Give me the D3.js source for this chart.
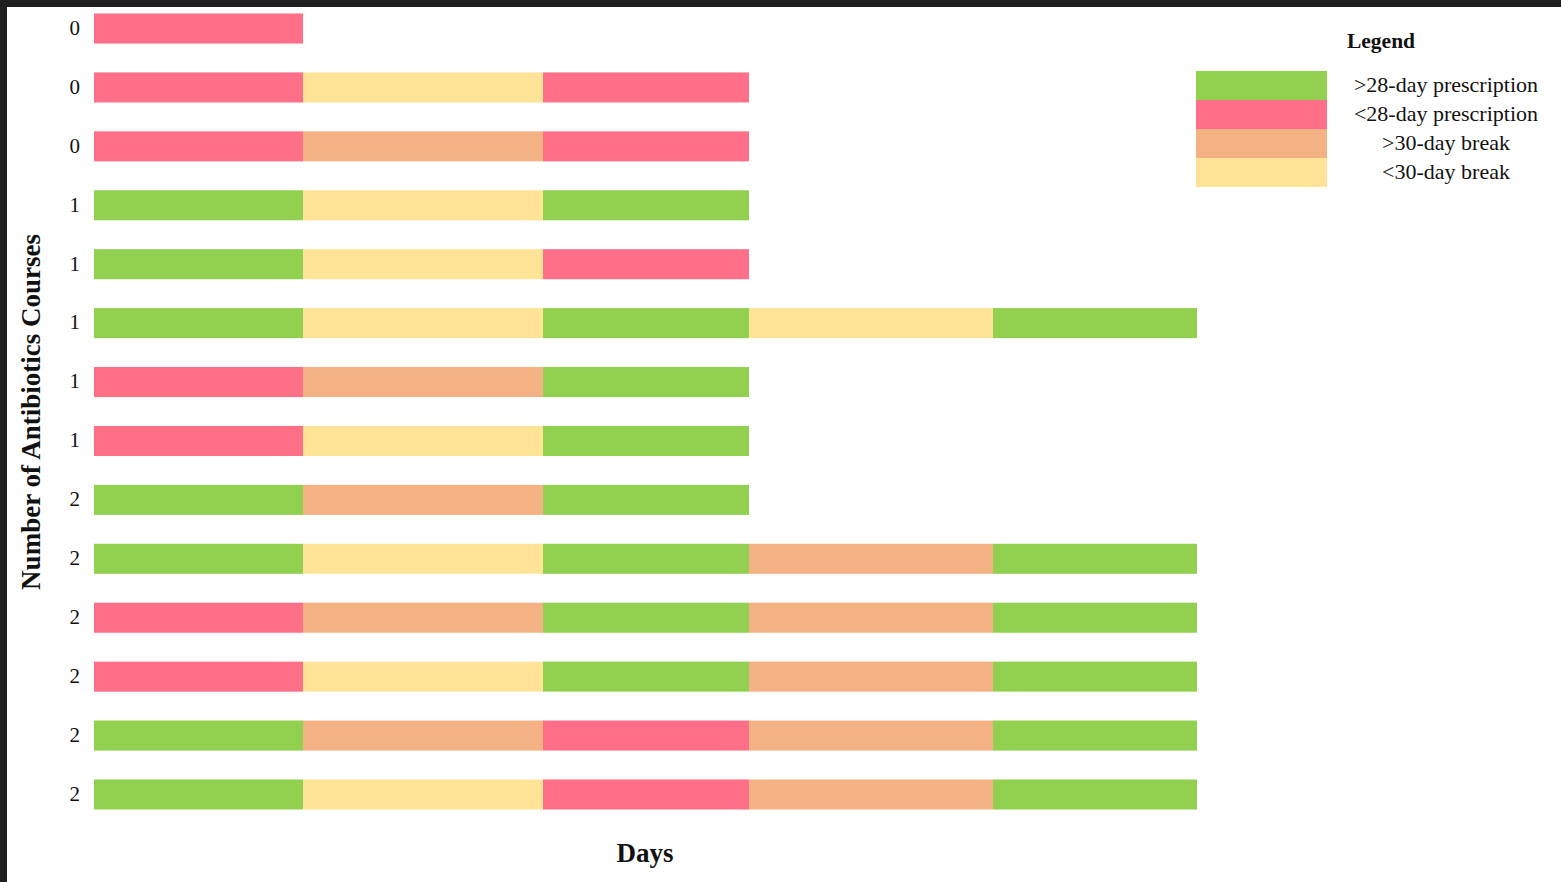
<!DOCTYPE html>
<html>
<head>
<meta charset="utf-8">
<script src="https://cdn.jsdelivr.net/npm/d3@7"></script>
<style>
  html, body { margin: 0; padding: 0; background: #1f1f1f; overflow: hidden; }
  svg { position: absolute; left: 7px; top: 7px; background: #fff; }
  text { font-family: "Liberation Serif", "Times New Roman", serif; fill: #111; }
</style>
</head>
<body>
<script>
// ---- data ----
const categories = [">28-day prescription", "<28-day prescription", ">30-day break", "<30-day break"];
const categoryColors = ["#92d050", "#ff6f87", "#f4b183", "#ffe498"];
const rowLabels = ["0","0","0","1","1","1","1","1","2","2","2","2","2","2"];
// segment durations (days) for each period slot
const segmentDays = [209, 240, 206, 244, 204];
// sequence of categories per row (index into categories)
const rowSequences = [
  [1],
  [1, 3, 1],
  [1, 2, 1],
  [0, 3, 0],
  [0, 3, 1],
  [0, 3, 0, 3, 0],
  [1, 2, 0],
  [1, 3, 0],
  [0, 2, 0],
  [0, 3, 0, 2, 0],
  [1, 2, 0, 2, 0],
  [1, 3, 0, 2, 0],
  [0, 2, 1, 2, 0],
  [0, 3, 1, 2, 0]
];
const xTitle = "Days";
const yTitle = "Number of Antibiotics Courses";
const legendTitle = "Legend";

// ---- layout ----
const W = 1554, H = 875, OX = 7, OY = 7;
const svg = d3.select("body").append("svg").attr("width", W).attr("height", H);
const g = svg.append("g").attr("transform", `translate(${-OX},${-OY})`);

const totalDays = d3.sum(segmentDays);
const x = d3.scaleLinear().domain([0, totalDays]).range([94, 1197]);
const y = d3.scaleBand().domain(d3.range(rowSequences.length)).range([13.5, 809.5]).paddingInner(0.49).paddingOuter(0);
const color = d3.scaleOrdinal().domain(d3.range(categories.length)).range(categoryColors);

const segs = [];
rowSequences.forEach((seq, r) => {
  let start = 0;
  seq.forEach((c, i) => {
    segs.push({ row: r, cat: c, start: start, end: start + segmentDays[i] });
    start += segmentDays[i];
  });
});

g.append("g").selectAll("rect").data(segs).join("rect")
  .attr("x", d => x(d.start))
  .attr("y", d => y(d.row))
  .attr("width", d => x(d.end) - x(d.start))
  .attr("height", y.bandwidth())
  .attr("fill", d => color(d.cat));

// y axis tick labels
const yAxis = d3.axisLeft(y).tickSize(0).tickPadding(0).tickFormat(i => rowLabels[i]);
const ya = g.append("g").attr("transform", "translate(80,-1)").call(yAxis);
ya.select(".domain").remove();
ya.selectAll("text").attr("font-size", 21).attr("font-family", "Liberation Serif").attr("fill", "#111").attr("dy", "0.35em");

// axis titles
g.append("text").attr("x", 645).attr("y", 862).attr("text-anchor", "middle")
  .attr("font-size", 27).attr("font-weight", "bold").text(xTitle);
g.append("text").attr("transform", "translate(40,412) rotate(-90)").attr("text-anchor", "middle")
  .attr("font-size", 27).attr("font-weight", "bold").text(yTitle);

// legend
const lg = g.append("g");
lg.append("text").attr("x", 1381).attr("y", 48).attr("text-anchor", "middle")
  .attr("font-size", 21.5).attr("font-weight", "bold").text(legendTitle);
const ly = d3.scaleBand().domain(d3.range(categories.length)).range([71, 187]);
lg.selectAll("rect").data(categories).join("rect")
  .attr("x", 1196).attr("y", (d, i) => ly(i)).attr("width", 131).attr("height", ly.bandwidth())
  .attr("fill", (d, i) => color(i));
lg.selectAll("text.item").data(categories).join("text").attr("class", "item")
  .attr("x", 1446).attr("y", (d, i) => ly(i) + ly.bandwidth() / 2 - 1).attr("dy", "0.35em")
  .attr("text-anchor", "middle").attr("font-size", 22).text(d => d);
</script>
</body>
</html>
